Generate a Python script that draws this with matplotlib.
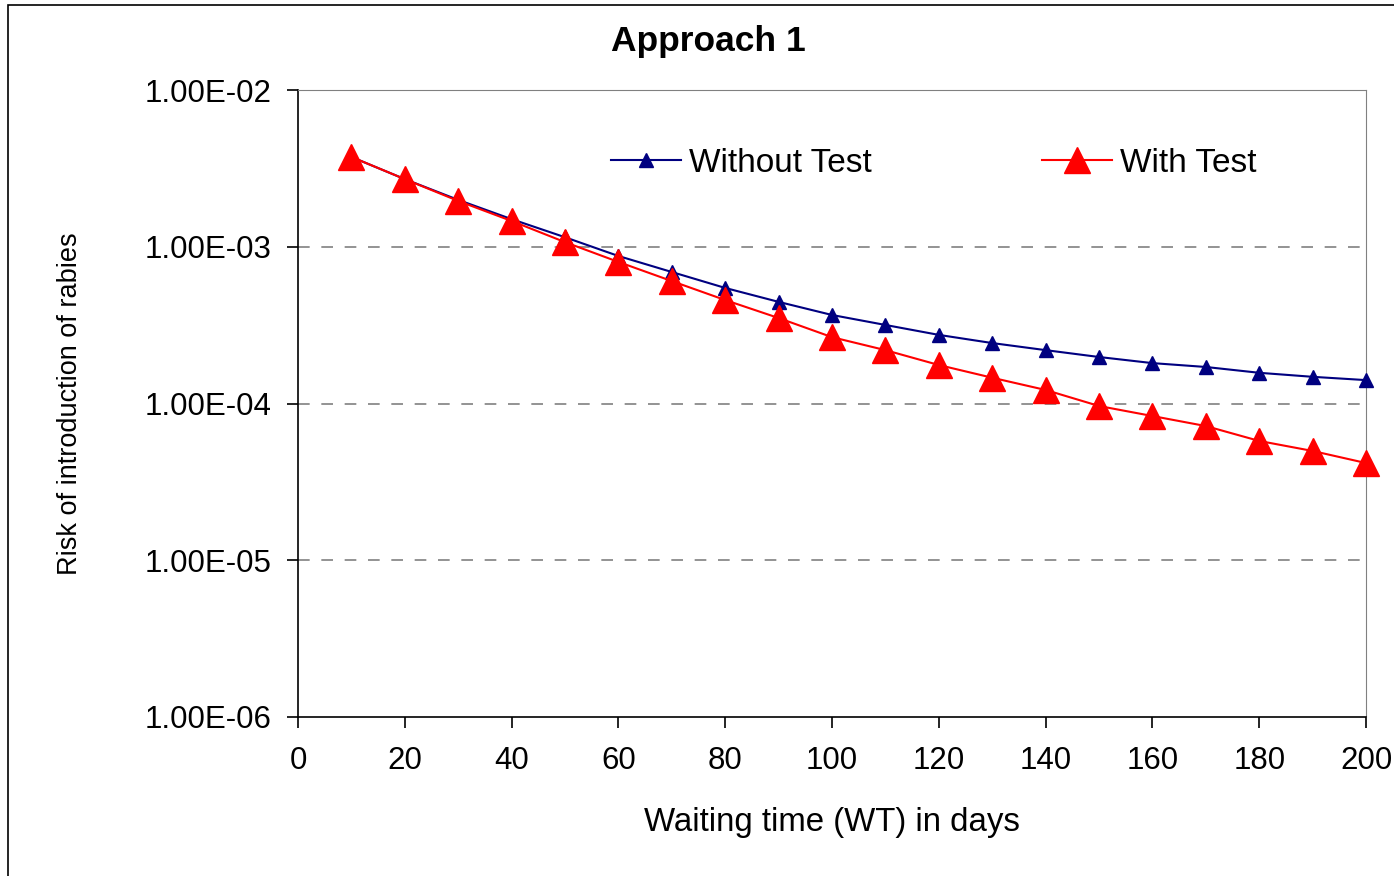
import matplotlib
matplotlib.use("Agg")
import matplotlib.pyplot as plt
from matplotlib.ticker import FixedLocator, FuncFormatter, NullLocator
from matplotlib.patches import Rectangle

plt.rcParams['font.family'] = ['Liberation Sans', 'DejaVu Sans']

# waiting time in days
dias = [10, 20, 30, 40, 50, 60, 70, 80, 90, 100,
        110, 120, 130, 140, 150, 160, 170, 180, 190, 200]
# risk without test
sin_test = [3.74e-3, 2.70e-3, 1.99e-3, 1.50e-3, 1.15e-3, 8.73e-4, 6.90e-4, 5.46e-4, 4.45e-4, 3.67e-4,
            3.17e-4, 2.74e-4, 2.43e-4, 2.19e-4, 1.98e-4, 1.81e-4, 1.71e-4, 1.57e-4, 1.48e-4, 1.41e-4]
# risk with test
con_test = [3.74e-3, 2.70e-3, 1.96e-3, 1.46e-3, 1.07e-3, 8.00e-4, 6.04e-4, 4.57e-4, 3.51e-4, 2.65e-4,
            2.19e-4, 1.76e-4, 1.46e-4, 1.22e-4, 9.64e-5, 8.32e-5, 7.18e-5, 5.77e-5, 4.98e-5, 4.17e-5]

xticks = list(range(0, 201, 20))
yticks = [1e-6, 1e-5, 1e-4, 1e-3, 1e-2]

W, H = 1394, 876
fig = plt.figure(figsize=(W / 100, H / 100), dpi=100)
ax = fig.add_axes([298 / W, 1 - 717 / H, (1366 - 298) / W, (717 - 90) / H])

# outer frame
fig.patches.append(Rectangle((8 / W, -0.05), 1.1, 1.05 - 5 / H, transform=fig.transFigure,
                             fill=False, edgecolor='black', linewidth=1.2))

ax.plot(dias, sin_test, color='#000080', linewidth=1.5, marker='^', markersize=10.5,
        label='Without Test', clip_on=False, zorder=3)
ax.plot(dias, con_test, color='#FF0000', linewidth=1.5, marker='^', markersize=19,
        label='With Test', clip_on=False, zorder=4)

ax.set_yscale('log')
ax.set_xlim(0, 200)
ax.set_ylim(1e-6, 1e-2)
ax.xaxis.set_major_locator(FixedLocator(xticks))
ax.yaxis.set_major_locator(FixedLocator(yticks))
ax.yaxis.set_minor_locator(NullLocator())
ax.yaxis.set_major_formatter(FuncFormatter(lambda v, p: f"{v:.2E}"))

for v in [1e-5, 1e-4, 1e-3]:
    ax.axhline(v, color='#808080', linewidth=1.2, linestyle=(0, (7, 7)), zorder=1)

ax.tick_params(axis='both', direction='out', length=8, width=1.2, labelsize=22.5, colors='black')
ax.tick_params(axis='x', pad=13)
ax.tick_params(axis='y', pad=11)
ax.spines['left'].set_linewidth(1.2)
ax.spines['bottom'].set_linewidth(1.2)
ax.spines['top'].set_color('#808080')
ax.spines['right'].set_color('#808080')

ax.set_xlabel('Waiting time (WT) in days', fontsize=23.8, labelpad=22)
ax.set_ylabel('Risk of introduction of rabies', fontsize=19.5, labelpad=44)
fig.text(708 / W, 1 - 42 / H, 'Approach 1', fontsize=25.5, fontweight='bold',
         ha='center', va='center')

ax.legend(loc='center left', bbox_to_anchor=((611 - 298) / 1068, (717 - 163) / 627), ncol=2,
          frameon=False, fontsize=24, handlelength=2.1, handletextpad=0.25, columnspacing=5.1,
          borderpad=0, borderaxespad=0)

fig.savefig('out.png', dpi=100)
